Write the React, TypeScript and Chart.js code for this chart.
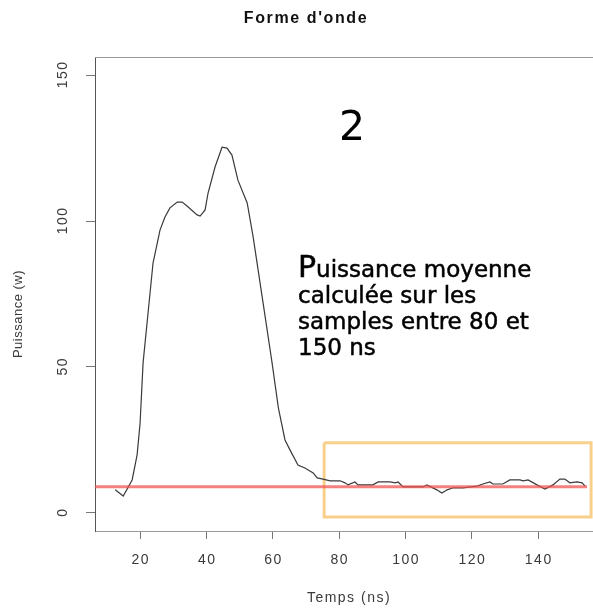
import { useEffect, useRef } from 'react';
import { Chart, registerables } from 'chart.js';

Chart.register(...registerables);

// Waveform samples: time (ns) and power (W)
const TIME_NS = [
  12.5, 14.9, 17.6, 19.1, 20.0, 20.9, 22.4, 23.9, 26.0, 27.5, 29.0, 31.2, 32.7, 34.5, 37.2, 38.1,
  39.6, 40.5, 42.6, 44.7, 46.2, 47.7, 49.5, 52.3, 54.1, 57.1, 59.8, 61.7, 63.7, 65.2, 67.6, 69.7,
  72.2, 73.4, 75.2, 77.3, 80.3, 81.8, 82.7, 84.8, 85.7, 90.2, 91.8, 95.4, 96.9, 97.8, 99.3, 105.3,
  106.5, 109.5, 111.0, 112.6, 114.4, 117.4, 121.6, 123.4, 125.5, 126.4, 129.4, 131.5, 134.6, 135.5,
  137.0, 139.7, 142.1, 144.5, 146.6, 148.1, 149.6, 151.7, 153.3, 154.2,
];
const POWER_W = [
  7.9, 5.8, 11.3, 19.9, 30.8, 51.4, 68.5, 85.6, 96.9, 101.4, 104.5, 106.5, 106.5, 104.8, 102.1, 101.7,
  103.8, 109.6, 118.5, 125.3, 125.0, 122.6, 114.0, 106.2, 94.5, 71.9, 51.4, 36.0, 25.0, 21.6, 16.4, 15.4,
  13.7, 12.0, 11.6, 11.0, 11.0, 10.3, 9.6, 10.6, 9.6, 9.6, 10.6, 10.6, 10.3, 10.6, 8.9, 8.9,
  9.6, 7.9, 6.8, 7.9, 8.6, 8.6, 9.2, 9.9, 10.6, 9.9, 9.9, 11.3, 11.3, 11.0,
  11.3, 9.6, 8.2, 9.6, 11.6, 11.6, 10.3, 10.6, 10.3, 9.2,
];

// Mean power over the 80–150 ns samples, and the span of its marker line
const MEAN_POWER_W = 9.0;
const MEAN_LINE_NS = [6.4, 154.8];

// Averaging window outline (time and power bounds)
const WINDOW_NS = [75.5, 156.0];
const WINDOW_W = [-1.4, 24.0];

// Axes
const X_RANGE = [6.4, 159.6];
const Y_RANGE = [-6.2, 156.2];
const X_TICKS = [20, 40, 60, 80, 100, 120, 140];
const Y_TICKS = [0, 50, 100, 150];

const TITLE = "Forme d'onde";
const X_TITLE = 'Temps (ns)';
const Y_TITLE = 'Puissance (w)';
const BIG_LABEL = '2';
const NOTE_LINES = ['Puissance moyenne', 'calculée sur les', 'samples entre 80 et', '150 ns'];

const AXIS_FONT = '"Liberation Sans", Arial, sans-serif';
const NOTE_FONT = '"DejaVu Sans", sans-serif';

const decorations = {
  id: 'decorations',
  afterDraw(chart: any) {
    const { ctx, chartArea, scales } = chart;
    const xs = scales.x;
    const ys = scales.y;
    ctx.save();

    // top edge of the plot box
    ctx.strokeStyle = '#9a9a9a';
    ctx.lineWidth = 1;
    ctx.beginPath();
    ctx.moveTo(chartArea.left, chartArea.top + 0.5);
    ctx.lineTo(chartArea.right, chartArea.top + 0.5);
    ctx.stroke();

    // tick labels (R-like, widely spaced)
    ctx.fillStyle = '#3a3a3a';
    ctx.font = `14px ${AXIS_FONT}`;
    ctx.letterSpacing = '1.5px';
    ctx.textAlign = 'center';
    ctx.textBaseline = 'middle';
    for (const t of xs.ticks) {
      ctx.fillText(String(t.value), xs.getPixelForValue(t.value) + 0.75, 560);
    }
    for (const t of ys.ticks) {
      const py = ys.getPixelForValue(t.value);
      ctx.save();
      ctx.translate(63, py);
      ctx.rotate(-Math.PI / 2);
      ctx.fillText(String(t.value), 0.75, 0);
      ctx.restore();
    }

    // axis titles
    const cx = (chartArea.left + chartArea.right) / 2;
    const cy = (chartArea.top + chartArea.bottom) / 2;
    ctx.fillText(X_TITLE, cx, 598);
    ctx.save();
    ctx.letterSpacing = '0.5px';
    ctx.font = `13px ${AXIS_FONT}`;
    ctx.translate(18, cy + 20);
    ctx.rotate(-Math.PI / 2);
    ctx.fillText(Y_TITLE, 0, 0);
    ctx.restore();

    // main title
    ctx.fillStyle = '#111';
    ctx.font = `bold 16px ${AXIS_FONT}`;
    ctx.letterSpacing = '1.6px';
    ctx.fillText(TITLE, 306, 19);
    ctx.letterSpacing = '0px';

    // overlay annotations
    ctx.fillStyle = '#000';
    ctx.strokeStyle = '#000';
    ctx.lineWidth = 0.5;
    ctx.textAlign = 'center';
    ctx.textBaseline = 'alphabetic';
    ctx.font = `41px ${NOTE_FONT}`;
    ctx.fillText(BIG_LABEL, 352, 140);

    ctx.textAlign = 'left';
    const baselines = [277, 303, 329, 355];
    NOTE_LINES.forEach((line, i) => {
      let x = 298;
      let rest = line;
      if (i === 0) {
        ctx.font = `30px ${NOTE_FONT}`;
        ctx.fillText(line[0], x, baselines[i]);
        ctx.strokeText(line[0], x, baselines[i]);
        x += ctx.measureText(line[0]).width;
        rest = line.slice(1);
      }
      ctx.font = `23px ${NOTE_FONT}`;
      ctx.fillText(rest, x, baselines[i]);
      ctx.strokeText(rest, x, baselines[i]);
    });
    ctx.restore();
  },
};

export default function App() {
  const ref = useRef<HTMLCanvasElement | null>(null);

  useEffect(() => {
    if (!ref.current) return;
    const wave = TIME_NS.map((t, i) => ({ x: t, y: POWER_W[i] }));
    const meanLine = MEAN_LINE_NS.map((t) => ({ x: t, y: MEAN_POWER_W }));
    const windowBox = [
      { x: WINDOW_NS[0], y: WINDOW_W[1] },
      { x: WINDOW_NS[1], y: WINDOW_W[1] },
      { x: WINDOW_NS[1], y: WINDOW_W[0] },
      { x: WINDOW_NS[0], y: WINDOW_W[0] },
      { x: WINDOW_NS[0], y: WINDOW_W[1] },
    ];

    const chart = new Chart(ref.current, {
      type: 'line',
      data: {
        datasets: [
          {
            data: windowBox,
            borderColor: 'rgba(247, 200, 120, 0.85)',
            borderWidth: 3,
            pointRadius: 0,
            tension: 0,
            order: 3,
          },
          {
            data: wave,
            borderColor: '#3a3a3a',
            borderWidth: 1.2,
            pointRadius: 0,
            tension: 0,
            order: 2,
          },
          {
            data: meanLine,
            borderColor: 'rgba(238, 80, 80, 0.72)',
            borderWidth: 3,
            pointRadius: 0,
            tension: 0,
            order: 1,
          },
        ],
      },
      options: {
        animation: false,
        responsive: false,
        layout: { padding: { top: 57, right: 2, left: 0, bottom: 0 } },
        plugins: { legend: { display: false }, tooltip: { enabled: false }, title: { display: false } },
        scales: {
          x: {
            type: 'linear',
            min: X_RANGE[0],
            max: X_RANGE[1],
            afterBuildTicks: (s: any) => {
              s.ticks = X_TICKS.map((v) => ({ value: v }));
            },
            afterFit: (s: any) => {
              s.height = 77;
            },
            grid: { drawOnChartArea: false, drawTicks: true, tickLength: 8, color: '#777' },
            border: { display: true, color: '#999', width: 1 },
            ticks: { display: false },
          },
          y: {
            type: 'linear',
            min: Y_RANGE[0],
            max: Y_RANGE[1],
            afterBuildTicks: (s: any) => {
              s.ticks = Y_TICKS.map((v) => ({ value: v }));
            },
            afterFit: (s: any) => {
              s.width = 95;
            },
            grid: { drawOnChartArea: false, drawTicks: true, tickLength: 9, color: '#777' },
            border: { display: true, color: '#555', width: 1 },
            ticks: { display: false },
          },
        },
      },
      plugins: [decorations],
    });
    return () => chart.destroy();
  }, []);

  return (
    <div style={{ position: 'fixed', left: 0, top: 0, width: 593, height: 608, overflow: 'hidden', background: '#fff' }}>
      <canvas ref={ref} width={605} height={608} />
    </div>
  );
}
